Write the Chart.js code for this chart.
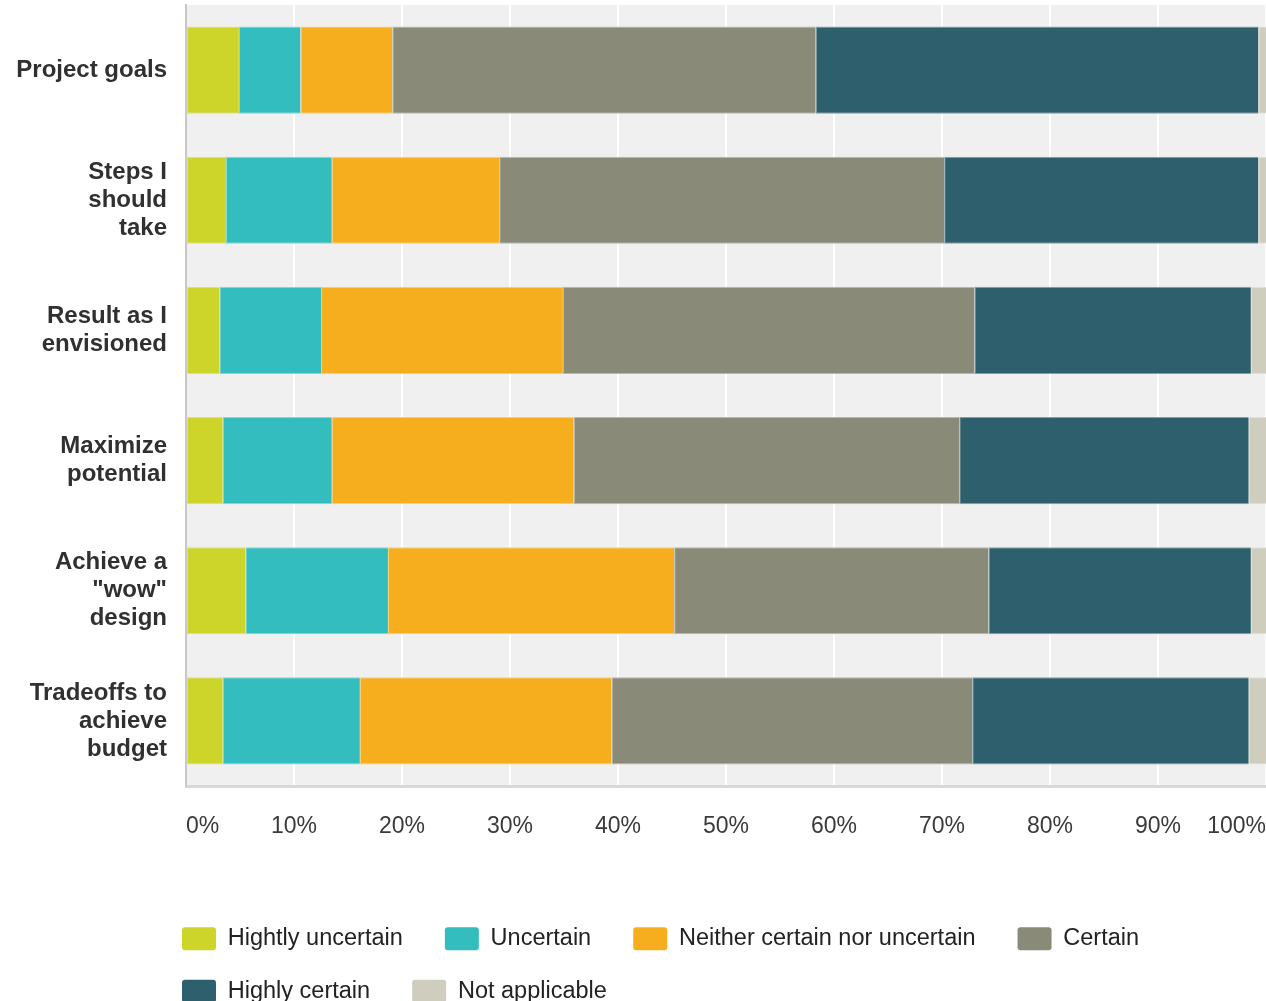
<!DOCTYPE html>
<html>
<head>
<meta charset="utf-8">
<script src="https://cdn.jsdelivr.net/npm/chart.js@4.4.1/dist/chart.umd.min.js"></script>
<style>
  html, body { margin: 0; padding: 0; background: #ffffff; overflow: hidden; }
  #wrap { position: absolute; left: 0; top: 0; width: 1266px; height: 1013px; }
</style>
</head>
<body>
<div id="wrap"><canvas id="c"></canvas></div>
<script>
// ---- Data ----
const categories = [
  ["Project goals"],
  ["Steps I", "should", "take"],
  ["Result as I", "envisioned"],
  ["Maximize", "potential"],
  ["Achieve a", "\"wow\"", "design"],
  ["Tradeoffs to", "achieve", "budget"]
];
const seriesNames = ["Hightly uncertain", "Uncertain", "Neither certain nor uncertain", "Certain", "Highly certain", "Not applicable"];
const highlyUncertain = [4.9, 3.7, 3.1, 3.4, 5.5, 3.4];
const uncertain       = [5.7, 9.8, 9.4, 10.1, 13.2, 12.7];
const neither         = [8.5, 15.5, 22.4, 22.4, 26.5, 23.3];
const certain         = [39.2, 41.2, 38.1, 35.7, 29.1, 33.4];
const highlyCertain   = [41.0, 29.1, 25.6, 26.8, 24.3, 25.6];
const notApplicable   = [0.7, 0.7, 1.4, 1.6, 1.4, 1.6];
const tickValues = [0, 10, 20, 30, 40, 50, 60, 70, 80, 90, 100];

const colors = ["#cdd42a", "#33bdbf", "#f6ae1f", "#898a78", "#2e5f6c", "#cfcdbe"];
const edgeColors = ["#dde27a", "#85d7d9", "#face79", "#b8b9ae", "#829fa7", "#e2e1d8"];
const seriesValues = [highlyUncertain, uncertain, neither, certain, highlyCertain, notApplicable];

const FONT = "'Liberation Sans', Arial, Helvetica, sans-serif";

const plotBg = {
  id: 'plotBg',
  beforeLayout(chart) {
    const lg = chart.legend;
    if (lg && !lg._patched) {
      lg._patched = true;
      const origFit = lg.fit.bind(lg);
      lg.fit = function () {
        const mw = this.maxWidth;
        this.maxWidth = Math.min(mw, 1114);
        origFit();
        this.maxWidth = mw;
        this.width = mw;
      };
    }
  },
  beforeDraw(chart) {
    if (chart.legend) chart.legend.left = 153;
    const a = chart.chartArea, ctx = chart.ctx;
    ctx.save();
    ctx.fillStyle = '#f0f0f0';
    ctx.fillRect(a.left, a.top, a.right - a.left, a.bottom - a.top);
    ctx.restore();
  }
};

new Chart(document.getElementById('c'), {
  type: 'bar',
  data: {
    labels: categories,
    datasets: seriesNames.map((n, i) => ({
      label: n,
      data: seriesValues[i],
      backgroundColor: colors[i],
      borderColor: edgeColors[i],
      borderWidth: { left: 1, top: 1, bottom: 1, right: 0 },
      borderSkipped: false,
      categoryPercentage: 1.0,
      barPercentage: 0.67
    }))
  },
  options: {
    indexAxis: 'y',
    responsive: true,
    maintainAspectRatio: false,
    devicePixelRatio: 1,
    animation: false,
    layout: { padding: { left: 0, top: 5, right: 0, bottom: 0 } },
    scales: {
      x: {
        stacked: true,
        min: 0, max: 100,
        afterBuildTicks(scale) { scale.ticks = tickValues.map(v => ({ value: v })); },
        afterFit(scale) { scale.paddingLeft = 0; scale.paddingRight = 0; scale.height = 112; },
        grid: {
          color: (c) => (c.tick && c.tick.value === 0) ? 'rgba(0,0,0,0)' : '#ffffff',
          lineWidth: 2,
          drawTicks: false
        },
        border: { display: true, color: '#d8d8d8', width: 3 },
        ticks: {
          autoSkip: false,
          align: 'inner',
          padding: 27,
          color: '#3a3a3a',
          font: { family: FONT, size: 23 },
          callback: (v) => v + '%'
        }
      },
      y: {
        stacked: true,
        afterFit(scale) { scale.width = 186; scale.paddingTop = 0; scale.paddingBottom = 0; },
        grid: { display: false, drawTicks: false },
        border: { display: true, color: '#c8c8c8', width: 2 },
        ticks: {
          padding: 19,
          color: '#303030',
          font: { family: FONT, size: 24, weight: 'bold', lineHeight: 28 / 24 }
        }
      }
    },
    plugins: {
      tooltip: { enabled: false },
      legend: {
        position: 'bottom',
        align: 'start',
        labels: {
          boxWidth: 34,
          boxHeight: 23,
          padding: 29,
          useBorderRadius: true,
          borderRadius: 3,
          color: '#222222',
          font: { family: FONT, size: 23.5 },
          generateLabels(chart) {
            const items = Chart.defaults.plugins.legend.labels.generateLabels(chart);
            items.forEach(it => { it.text = it.text + '  '; it.lineWidth = 0; });
            return items;
          }
        }
      }
    }
  },
  plugins: [plotBg]
});
</script>
</body>
</html>
